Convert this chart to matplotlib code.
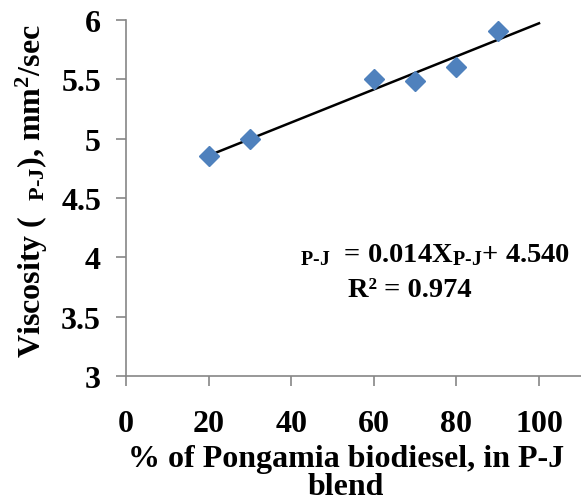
import numpy as np
import matplotlib.pyplot as plt

# blend % of Pongamia biodiesel vs viscosity
blend_pct = [20, 30, 60, 70, 80, 90]
viscosity = [4.85, 5.0, 5.5, 5.49, 5.6, 5.91]
x_ticks = [0, 20, 40, 60, 80, 100]
y_ticks = [3, 3.5, 4, 4.5, 5, 5.5, 6]

plt.rcParams['font.family'] = 'Liberation Serif'
plt.rcParams['font.weight'] = 'bold'
plt.rcParams['mathtext.fontset'] = 'custom'
plt.rcParams['mathtext.rm'] = 'Liberation Serif:bold'
plt.rcParams['mathtext.it'] = 'Liberation Serif:bold'
plt.rcParams['mathtext.bf'] = 'Liberation Serif:bold'

fig = plt.figure(figsize=(5.81, 5.02), dpi=100)
ax = fig.add_axes([126 / 581, 1 - 377 / 502, (621.6 - 126) / 581, (377 - 21) / 502])

ax.plot(blend_pct, viscosity, 'D', color='#4F81BD', ms=10.5, mec='#4F81BD', zorder=3)

# linear trendline
slope, icpt = np.polyfit(blend_pct, viscosity, 1)
xs = np.array([20, 100])
ax.plot(xs, slope * xs + icpt, color='black', lw=1.8, zorder=2)

ax.set_xlim(0, 120)
ax.set_ylim(3, 6)
ax.set_xticks(x_ticks)
ax.set_yticks(y_ticks)
ax.set_yticklabels(['3', '3.5', '4', '4.5', '5', '5.5', '6'])
ax.tick_params(axis='both', direction='out', length=7, width=1.2, color='#868686',
               labelsize=23)
ax.tick_params(axis='x', pad=17)
ax.tick_params(axis='y', pad=11)
for side in ['top', 'right']:
    ax.spines[side].set_visible(False)
for side in ['left', 'bottom']:
    ax.spines[side].set_color('#868686')
    ax.spines[side].set_linewidth(1.2)

fig.text(0.595, 0.0, '% of Pongamia biodiesel, in P-J\nblend', ha='center', va='bottom',
         fontsize=23, fontweight='bold', linespacing=0.95)
fig.text(0.055, 0.62, r'Viscosity (  $_{\mathrm{P\text{-}J}}$), mm$^{2}$/sec', rotation=90,
         ha='center', va='center', fontsize=23, fontweight='bold')

fig.text(0.516, 0.492, r'$_{\mathrm{P\text{-}J}}$  = 0.014X$_{\mathrm{P\text{-}J}}$+ 4.540',
         ha='left', va='center', fontsize=20.5, fontweight='bold')
fig.text(0.705, 0.422, 'R² = 0.974', ha='center', va='center', fontsize=20.5, fontweight='bold')

fig.savefig('out.png', dpi=100)
